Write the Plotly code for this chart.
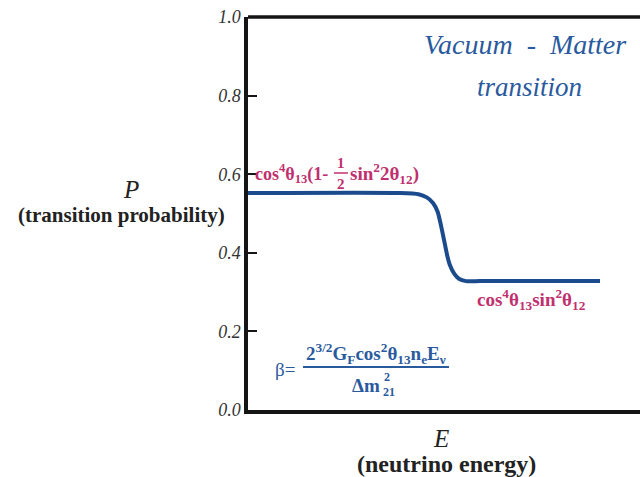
import plotly.graph_objects as go

# Transition probability curve (arbitrary energy units)
energy = [0.0, 0.388, 0.435, 0.456, 0.472, 0.484, 0.492, 0.500, 0.508,
          0.515, 0.526, 0.538, 0.556, 0.592, 0.898]
prob = [0.552, 0.552, 0.549, 0.541, 0.527, 0.504, 0.471, 0.433, 0.394,
        0.369, 0.347, 0.334, 0.328, 0.328, 0.328]

y_ticks = [0.0, 0.2, 0.4, 0.6, 0.8, 1.0]
y_ticklabels = ["0.0", "0.2", "0.4", "0.6", "0.8", "1.0"]

W, H = 640, 477
L, R, T, B = 248, 0, 17, 67
PW, PH = W - L - R, H - T - B

CURVE = "#1b4b8c"
TITLE_BLUE = "#2a5a9e"
MAGENTA = "#c0306e"
AXIS = "#151515"
SERIF = "Liberation Serif"


def px(x):
    return (x - L) / PW


def py(y):
    return (H - B - y) / PH


fig = go.Figure()
fig.add_trace(go.Scatter(
    x=energy, y=prob, mode="lines",
    line=dict(color=CURVE, width=4, shape="spline", smoothing=0.6),
    hoverinfo="skip", showlegend=False,
))

annotations = []


def text(x, y, s, size=15, color=MAGENTA, bold=True, italic=False,
         xanchor="center"):
    annotations.append(dict(
        x=px(x), y=py(y), xref="paper", yref="paper", text=s,
        showarrow=False, xanchor=xanchor, yanchor="middle",
        font=dict(family=SERIF, size=size, color=color,
                  weight="bold" if bold else "normal",
                  style="italic" if italic else "normal"),
    ))


# Heading
text(525, 45, "Vacuum&nbsp;&nbsp;-&nbsp;&nbsp;Matter", size=28,
     color=TITLE_BLUE, bold=False, italic=True)
text(529, 87, "transition", size=27, color=TITLE_BLUE, bold=False,
     italic=True)

# Axis titles
text(131, 189, "P", size=25, color="#222", bold=False, italic=True)
text(121, 215, "(transition probability)", size=21, color="#222")
text(441, 438, "E", size=25, color="#222", bold=False, italic=True)
text(446, 464, "(neutrino energy)", size=24, color="#222")

# Vacuum limit
text(253, 173, "cos<sup>4</sup>θ<sub>13</sub>(1-", size=18, xanchor="left")
text(341, 163, "1", size=15)
text(341, 184, "2", size=15)
text(348, 173, "sin<sup>2</sup>2θ<sub>12</sub>)", size=19, xanchor="left")

# Matter limit
text(531, 299, "cos<sup>4</sup>θ<sub>13</sub>sin<sup>2</sup>θ<sub>12</sub>",
     size=19)

# Beta parameter
text(285, 369, "β=", size=19, color=TITLE_BLUE, bold=False)
text(376, 353, "2<sup>3/2</sup>G<sub>F</sub>cos<sup>2</sup>θ<sub>13</sub>"
     "n<sub>e</sub>E<sub>ν</sub>", size=19, color=TITLE_BLUE)
text(366, 385, "Δm", size=19, color=TITLE_BLUE)
text(387, 377, "2", size=12, color=TITLE_BLUE, bold=True)
text(389, 392, "21", size=12, color=TITLE_BLUE, bold=True)

shapes = [
    # top frame line
    dict(type="line", xref="paper", yref="paper", x0=0, x1=1.01, y0=1, y1=1,
         line=dict(color=AXIS, width=3.5)),
    # fraction bars
    dict(type="line", xref="paper", yref="paper", x0=px(334), x1=px(348),
         y0=py(173), y1=py(173), line=dict(color=MAGENTA, width=1.5)),
    dict(type="line", xref="paper", yref="paper", x0=px(303), x1=px(449),
         y0=py(367), y1=py(367), line=dict(color=TITLE_BLUE, width=2)),
]

fig.update_layout(
    width=W, height=H,
    margin=dict(l=L, r=R, t=T, b=B, pad=0),
    paper_bgcolor="white", plot_bgcolor="white",
    showlegend=False,
    annotations=annotations,
    shapes=shapes,
    xaxis=dict(range=[0, 1], showgrid=False, zeroline=False,
               showticklabels=False, ticks="", showline=True,
               linecolor=AXIS, linewidth=3.5),
    yaxis=dict(range=[0, 1], showgrid=False, zeroline=False,
               tickmode="array", tickvals=y_ticks, ticktext=y_ticklabels,
               ticks="inside", ticklen=9, tickwidth=2, tickcolor=AXIS,
               showline=True, linecolor=AXIS, linewidth=3.5,
               tickfont=dict(family=SERIF, size=18, color="#333",
                             style="italic")),
)

fig.write_html("out.html")
